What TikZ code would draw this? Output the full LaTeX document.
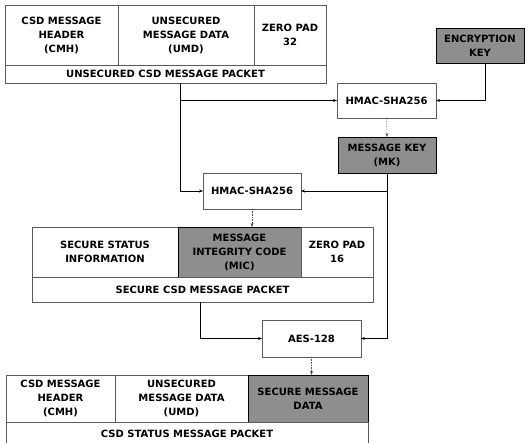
\documentclass[tikz,border=0pt]{standalone}
\usepackage{fontspec}
\setsansfont{DejaVu Sans}
\usetikzlibrary{arrows.meta}
\definecolor{boxline}{HTML}{5a5a5a}
\definecolor{shade}{HTML}{8e8e8e}

\begin{document}
\begin{tikzpicture}[
    x=1pt, y=-1pt,
    font=\sffamily\bfseries\fontsize{10}{14}\selectfont,
    cell/.style={
        rectangle, draw=boxline, fill=white, align=center,
        anchor=north west, inner sep=1pt, outer sep=0pt, line width=0.6pt
    },
    darkcell/.style={cell, draw=black, fill=shade, line width=0.9pt},
    flow/.style={draw=black, line width=0.7pt, -{Stealth[length=4pt,width=3pt]}},
    drop/.style={draw=black!70, line width=0.6pt, densely dotted, -{Stealth[length=4pt,width=3pt]}}
]

\useasboundingbox (0,0) rectangle (529,443);

% unsecured packet
\node[cell, minimum width=113, minimum height=60] (ucmh) at (5,5) {CSD MESSAGE\\HEADER\\(CMH)};
\node[cell, minimum width=136, minimum height=60] (uumd) at (118,5) {UNSECURED\\MESSAGE DATA\\(UMD)};
\node[cell, minimum width=72, minimum height=60] (uzp) at (254,5) {ZERO PAD\\32};
\node[cell, minimum width=321, minimum height=18] (upkt) at (5,65) {UNSECURED CSD MESSAGE PACKET};

% keys and hashing
\node[darkcell, minimum width=88, minimum height=35] (key) at (436,28) {ENCRYPTION\\KEY};
\node[cell, minimum width=99, minimum height=35] (hm1) at (337,83) {HMAC-SHA256};
\node[darkcell, minimum width=98, minimum height=36] (mk) at (338,137) {MESSAGE KEY\\(MK)};
\node[cell, minimum width=98, minimum height=36] (hm2) at (203,173) {HMAC-SHA256};

% secure packet
\node[cell, minimum width=146, minimum height=50] (ssi) at (32,227) {SECURE STATUS\\INFORMATION};
\node[darkcell, minimum width=123, minimum height=50] (mic) at (178,227) {MESSAGE\\INTEGRITY CODE\\(MIC)};
\node[cell, minimum width=72, minimum height=50] (szp) at (301,227) {ZERO PAD\\16};
\node[cell, minimum width=341, minimum height=25] (spkt) at (32,277) {SECURE CSD MESSAGE PACKET};

\node[cell, minimum width=99, minimum height=37] (aes) at (262,320) {AES-128};

% status packet
\node[cell, minimum width=109, minimum height=47] (bcmh) at (6,375) {CSD MESSAGE\\HEADER\\(CMH)};
\node[cell, minimum width=133, minimum height=47] (bumd) at (115,375) {UNSECURED\\MESSAGE DATA\\(UMD)};
\node[darkcell, minimum width=120, minimum height=47] (bsmd) at (248,375) {SECURE MESSAGE\\DATA};
\node[cell, minimum width=362, minimum height=24] (bpkt) at (6,422) {CSD STATUS MESSAGE PACKET};

\coordinate (tapu) at (180,0);
\coordinate (taps) at (200,0);

% connectors
\draw[flow] (upkt.south -| tapu) |- (hm1.west);
\draw[flow] (upkt.south -| tapu) |- (hm2.west);
\draw[flow] ([xshift=5]key.south) |- (hm1.east);
\draw[drop] (hm1.south) -- (mk.north);
\draw[flow] (mk.south) |- (hm2.east);
\draw[flow] (mk.south) |- (aes.east);
\draw[drop] (hm2.south) -- (hm2.south |- mic.north);
\draw[flow] (spkt.south -| taps) |- (aes.west);
\draw[drop] (aes.south) -- (aes.south |- bsmd.north);

\end{tikzpicture}
\end{document}
